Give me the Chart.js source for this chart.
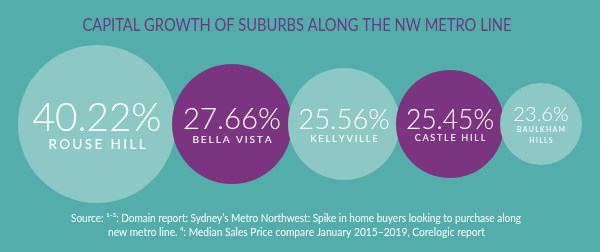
<!DOCTYPE html>
<html>
<head>
<meta charset="utf-8">
<script src="https://cdn.jsdelivr.net/npm/chart.js@4.4.0/dist/chart.umd.min.js"></script>
<style>
html, body { margin: 0; padding: 0; background: #53adaa; }
#wrap { width: 600px; height: 252px; position: relative; }
</style>
</head>
<body>
<div id="wrap"><canvas id="chart"></canvas></div>
<script>
var suburbs = [['ROUSE HILL'], ['BELLA VISTA'], ['KELLYVILLE'], ['CASTLE HILL'], ['BAULKHAM', 'HILLS']];
var growth = [40.22, 27.66, 25.56, 25.45, 23.6];
var titleText = 'CAPITAL GROWTH OF SUBURBS ALONG THE NW METRO LINE';
var sourceText = [
    'Source: \u00b9\u207b\u00b3: Domain report: Sydney\u2019s Metro Northwest: Spike in home buyers looking to purchase along',
    'new metro line. \u2074: Median Sales Price compare January 2015\u20132019, Corelogic report'
];

// circle sizes in px, packed left to right with a small overlap
var radii = [79, 60, 56, 54, 41];
var overlap = 4;
var firstX = 97, midY = 124;
var colors = ['#8ec8c4', '#7b3580'];

var xs = [];
radii.forEach(function(r, i){
    xs.push(i === 0 ? firstX : xs[i - 1] + radii[i - 1] + r - overlap);
});

// draw text squeezed/stretched to a given width
function fitText(ctx, text, cx, y, width){
    var w = ctx.measureText(text).width;
    ctx.save();
    ctx.translate(cx, y);
    ctx.scale(width / w, 1);
    ctx.textAlign = 'center';
    ctx.fillText(text, 0, 0);
    ctx.restore();
}

function spacedText(ctx, text, cx, y, spacing){
    var total = 0;
    var widths = text.split('').map(function(ch){
        var w = ctx.measureText(ch).width;
        total += w;
        return w;
    });
    total += spacing * (text.length - 1);
    var x = cx - total / 2;
    ctx.textAlign = 'left';
    text.split('').forEach(function(ch, i){
        ctx.fillText(ch, x, y);
        x += widths[i] + spacing;
    });
}

var textPlugin = {
    id: 'bubbleText',
    beforeDraw: function(chart){
        var ctx = chart.ctx;
        ctx.save();
        ctx.fillStyle = '#53adaa';
        ctx.fillRect(0, 0, chart.width, chart.height);
        ctx.restore();
    },
    afterDatasetsDraw: function(chart){
        var ctx = chart.ctx;
        var meta = chart.getDatasetMeta(0);
        ctx.save();
        ctx.fillStyle = '#ffffff';
        ctx.textBaseline = 'alphabetic';
        meta.data.forEach(function(el, i){
            var r = el.options.radius;
            var lines = suburbs[i];
            var two = lines.length > 1;
            ctx.font = '300 ' + (0.49 * r) + 'px Lato';
            ctx.textAlign = 'center';
            ctx.fillText(growth[i] + '%', el.x, el.y + (two ? -0.07 : 0.09) * r);
            var fs = 0.17 * r;
            ctx.font = '500 ' + fs + 'px Lato';
            lines.forEach(function(line, j){
                var dy = two ? (0.2 + 0.27 * j) : 0.32;
                spacedText(ctx, line, el.x, el.y + dy * r, fs * 0.18);
            });
        });

        ctx.fillStyle = '#6b387d';
        ctx.font = '400 17px Lato';
        fitText(ctx, titleText, 297, 31, 429);

        ctx.fillStyle = '#ffffff';
        ctx.font = '400 11px Lato';
        fitText(ctx, sourceText[0], 296, 222, 450);
        fitText(ctx, sourceText[1], 296.5, 236, 377);
        ctx.restore();
    }
};

new Chart(document.getElementById('chart'), {
    type: 'bubble',
    data: {
        datasets: [{
            data: xs.map(function(x){ return {x: x, y: midY}; }),
            radius: radii,
            hoverRadius: 0,
            borderWidth: 0,
            clip: false,
            backgroundColor: radii.map(function(r, i){ return colors[i % 2]; })
        }]
    },
    options: {
        responsive: true,
        maintainAspectRatio: false,
        animation: false,
        events: [],
        layout: { padding: 0, autoPadding: false },
        plugins: {
            legend: { display: false },
            tooltip: { enabled: false }
        },
        scales: {
            x: { type: 'linear', min: 0, max: 600, display: false },
            y: { type: 'linear', min: 0, max: 252, reverse: true, display: false }
        }
    },
    plugins: [textPlugin]
});
</script>
</body>
</html>
